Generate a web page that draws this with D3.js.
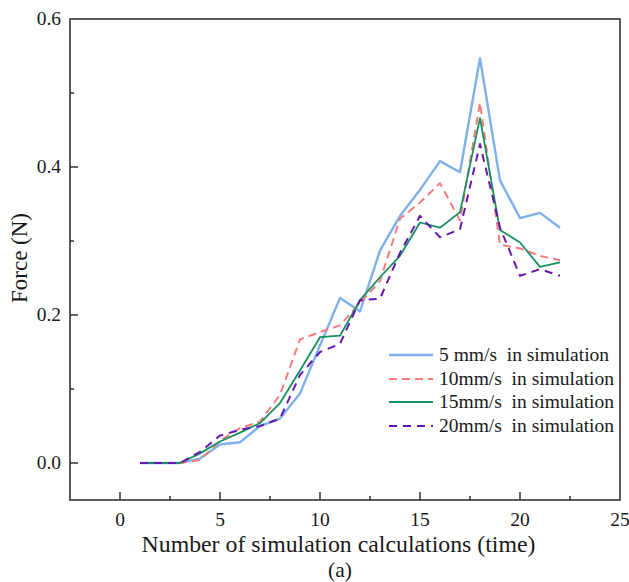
<!DOCTYPE html>
<html><head><meta charset="utf-8">
<script src="https://cdn.jsdelivr.net/npm/d3@7"></script>
<style>body{margin:0;background:#fff}svg{display:block}</style>
</head><body>
<svg id="c" width="629" height="582" font-family="'Liberation Serif', 'Times New Roman', Times, serif"></svg>
<script>
const xs = [1,2,3,4,5,6,7,8,9,10,11,12,13,14,15,16,17,18,19,20,21,22];
const v5  = [0,0,0,0.006,0.025,0.028,0.050,0.060,0.094,0.159,0.223,0.205,0.287,0.334,0.369,0.408,0.393,0.547,0.382,0.331,0.338,0.318];
const v10 = [0,0,0,0.004,0.030,0.047,0.056,0.092,0.167,0.177,0.186,0.216,0.246,0.330,0.352,0.378,0.328,0.487,0.295,0.290,0.280,0.274];
const v15 = [0,0,0,0.013,0.029,0.041,0.054,0.081,0.125,0.170,0.172,0.220,0.251,0.280,0.325,0.318,0.339,0.466,0.315,0.298,0.265,0.271];
const v20 = [0,0,0,0.015,0.037,0.045,0.050,0.060,0.119,0.150,0.161,0.220,0.222,0.284,0.334,0.305,0.316,0.431,0.318,0.253,0.262,0.253];
const seriesNames = ["5 mm/s\u00a0\u00a0in simulation","10mm/s\u00a0\u00a0in simulation","15mm/s\u00a0\u00a0in simulation","20mm/s\u00a0\u00a0in simulation"];
const xTicks = [0,5,10,15,20,25];
const yTicks = [0.0,0.2,0.4,0.6];
const xLabel = "Number of simulation calculations (time)";
const yLabel = "Force (N)";
const caption = "(a)";

const styles = [
  {color:"#7fb0ee", width:2.4, dash:null},
  {color:"#f47c7c", width:2, dash:"8,5"},
  {color:"#15905e", width:1.8, dash:null},
  {color:"#6618b6", width:2, dash:"8,6"}
];
const allVals = [v5,v10,v15,v20];

const svg = d3.select("#c");
const L=70,R=620,T=19,B=500;
const x = d3.scaleLinear().domain([-2.5,25]).range([L,R]);
const y = d3.scaleLinear().domain([-0.05,0.6]).range([B,T]);
const ink = "#1a1a1a";

svg.append("rect").attr("x",L).attr("y",T).attr("width",R-L).attr("height",B-T)
  .attr("fill","none").attr("stroke","#333").attr("stroke-width",1.6);

const xMinor = [2.5,7.5,12.5,17.5,22.5];
svg.append("g").selectAll("line").data(xTicks.filter(t=>t>-2.5&&t<25)).join("line")
  .attr("x1",d=>x(d)).attr("x2",d=>x(d)).attr("y1",B).attr("y2",B-8).attr("stroke","#333").attr("stroke-width",1.5);
svg.append("g").selectAll("line").data(xMinor).join("line")
  .attr("x1",d=>x(d)).attr("x2",d=>x(d)).attr("y1",B).attr("y2",B-4).attr("stroke","#333").attr("stroke-width",1.5);
svg.append("g").selectAll("text").data(xTicks).join("text")
  .attr("x",d=>x(d)).attr("y",B+26).attr("text-anchor","middle").attr("font-size",19.5).attr("fill",ink).text(d=>d);

const yMinor = [0.1,0.3,0.5];
svg.append("g").selectAll("line").data(yTicks.filter(t=>t<0.6)).join("line")
  .attr("x1",L).attr("x2",L+8).attr("y1",d=>y(d)).attr("y2",d=>y(d)).attr("stroke","#333").attr("stroke-width",1.5);
svg.append("g").selectAll("line").data(yMinor).join("line")
  .attr("x1",L).attr("x2",L+4).attr("y1",d=>y(d)).attr("y2",d=>y(d)).attr("stroke","#333").attr("stroke-width",1.5);
svg.append("g").selectAll("text").data(yTicks).join("text")
  .attr("x",L-9).attr("y",d=>y(d)+6).attr("text-anchor","end").attr("font-size",19.5).attr("fill",ink).text(d=>d.toFixed(1));

svg.append("text").attr("x",338.5).attr("y",551.5).attr("text-anchor","middle").attr("font-size",23.8).attr("fill",ink).text(xLabel);
svg.append("text").attr("x",340).attr("y",576.5).attr("text-anchor","middle").attr("font-size",21.5).attr("fill",ink).text(caption);
svg.append("text").attr("transform",`translate(27,258) rotate(-90)`).attr("text-anchor","middle").attr("font-size",23).attr("fill",ink).text(yLabel);

const line = d3.line().x((d,i)=>x(xs[i])).y(d=>y(d));
allVals.forEach((vals,k)=>{
  svg.append("path").datum(vals).attr("d",line).attr("fill","none")
    .attr("stroke",styles[k].color).attr("stroke-width",styles[k].width)
    .attr("stroke-dasharray",styles[k].dash).attr("stroke-linejoin","round");
});

const legY = [361,385,408,432];
seriesNames.forEach((n,k)=>{
  svg.append("line").attr("x1",389).attr("x2",433).attr("y1",legY[k]-6).attr("y2",legY[k]-6)
    .attr("stroke",styles[k].color).attr("stroke-width",styles[k].width).attr("stroke-dasharray",styles[k].dash);
  svg.append("text").attr("x",439).attr("y",legY[k]).attr("font-size",19.5).attr("fill",ink).text(n);
});
</script>
</body></html>
